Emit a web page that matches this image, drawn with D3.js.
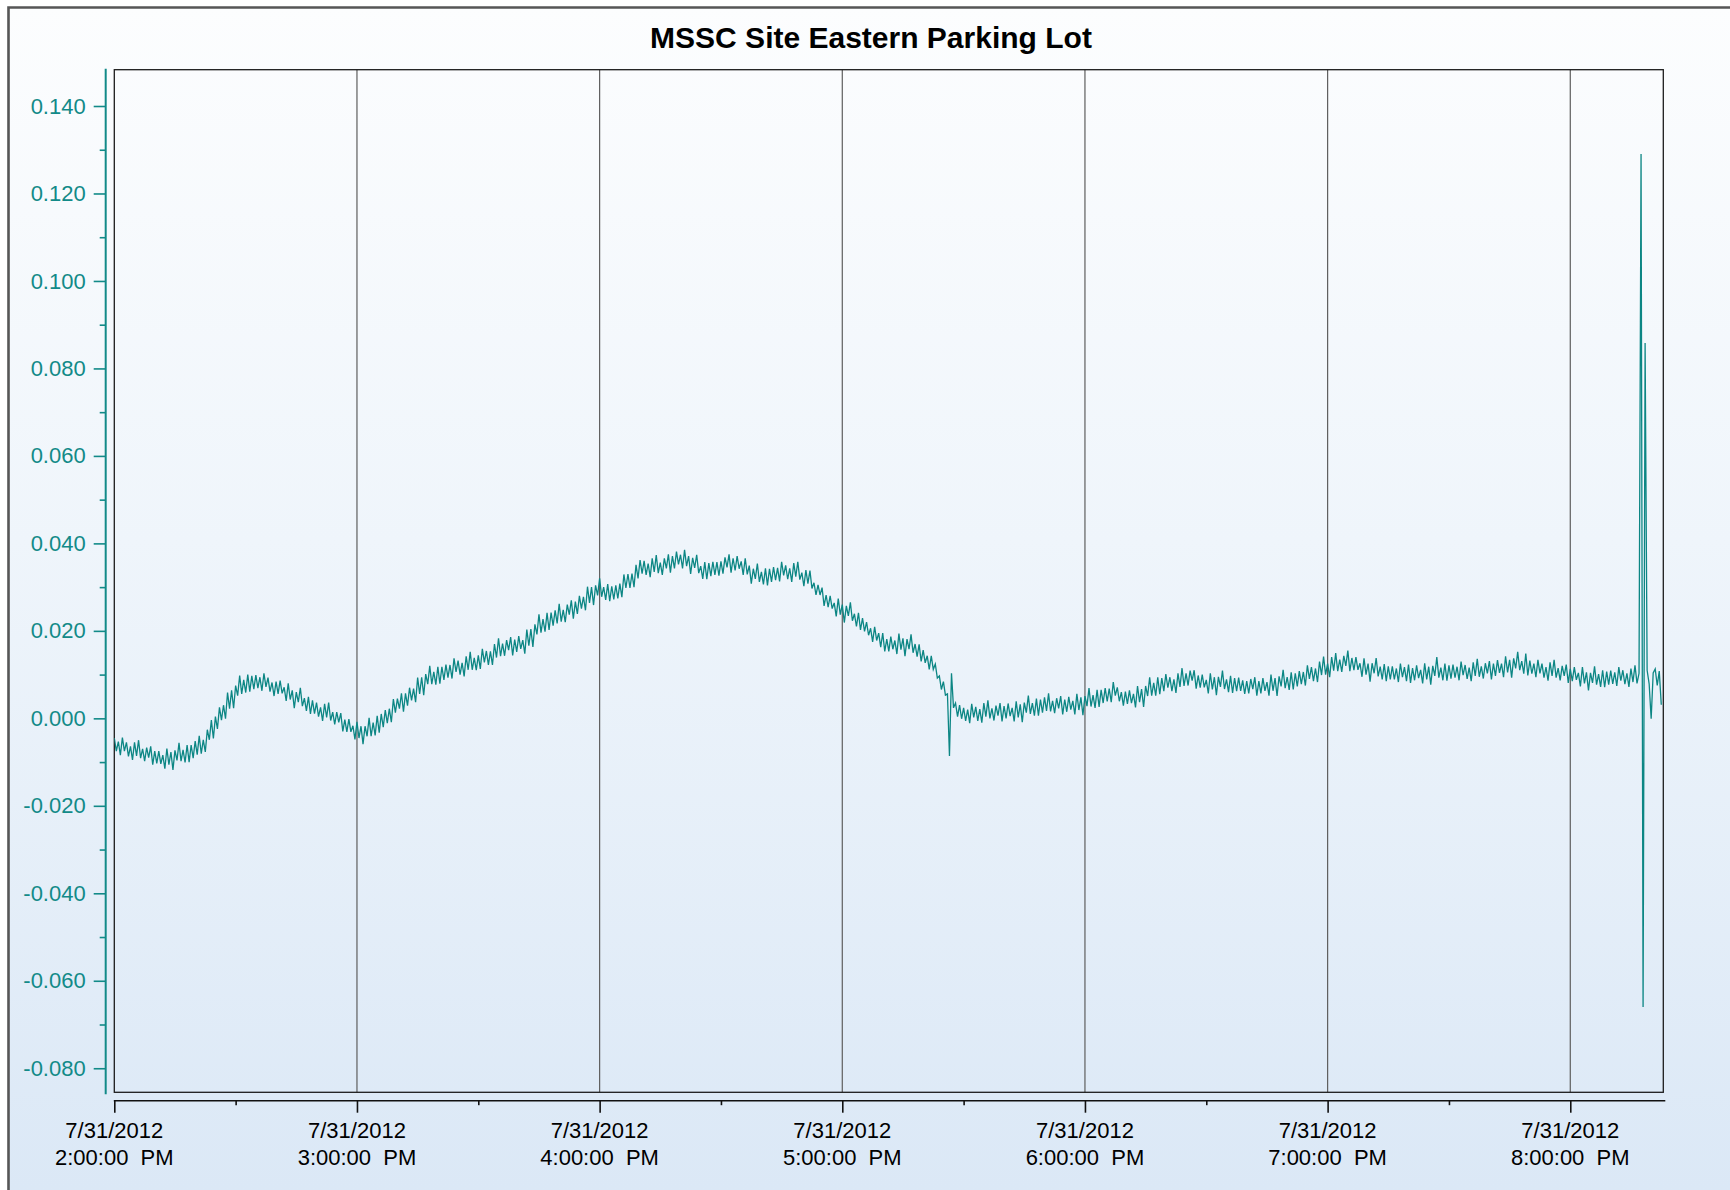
<!DOCTYPE html>
<html>
<head>
<meta charset="utf-8">
<script src="https://cdn.jsdelivr.net/npm/d3@7"></script>
<style>
  html, body { margin: 0; padding: 0; background: #ffffff; }
  svg { display: block; }
</style>
</head>
<body>
<svg id="chart" width="1730" height="1190"></svg>
<script>
// ---- data ----------------------------------------------------------------
const chartTitle = "MSSC Site Eastern Parking Lot";
const seriesStart = new Date(2012, 6, 31, 14, 0, 0);
const seriesEnd = new Date(2012, 6, 31, 20, 23, 0);
const sampleSeconds = 30;

// logged readings in units of 0.0001, one every 30 s starting at 2:00:00 PM
const readings = [
  -45,-75,-53,-84,-44,-75,-55,-87,-64,-95,-55,-86,-50,-91,-70,-98,-67,-90,-64,-106,
  -75,-103,-75,-104,-84,-115,-69,-106,-77,-118,-73,-96,-56,-98,-72,-101,-61,-100,-61,-91,
  -52,-83,-40,-81,-49,-77,-26,-49,-4,-46,4,-24,25,-4,30,-1,59,22,64,23,
  75,52,98,56,88,59,100,61,97,67,99,69,94,63,103,72,93,61,82,51,
  84,56,86,57,71,40,80,43,64,23,60,37,70,28,46,17,49,10,41,11,
  36,4,25,-6,33,2,36,-5,14,-14,14,-9,12,-30,-3,-31,-2,-31,-17,-48,
  -8,-45,-18,-59,-18,-41,1,-41,-10,-39,6,-33,10,-20,19,-11,22,-9,44,13,
  45,22,57,15,57,29,70,41,68,37,93,56,94,53,101,78,120,78,106,77,
  118,79,118,88,123,93,122,91,137,106,132,100,127,96,142,111,152,111,138,110,
  144,113,159,128,154,122,153,122,170,139,183,142,171,143,179,156,186,144,180,152,
  188,159,179,148,203,166,204,163,215,192,238,196,227,198,241,202,242,212,247,217,
  262,221,248,220,260,237,270,228,267,239,280,251,278,247,301,264,300,259,304,281,
  320,278,300,271,307,268,302,272,304,274,308,277,329,298,330,298,331,300,351,320,
  362,331,360,328,354,323,366,335,373,332,356,328,366,343,375,333,371,343,381,352,
  374,343,385,348,371,330,367,344,374,332,348,319,357,318,355,325,358,328,357,326,
  359,331,368,345,375,333,366,338,371,342,359,328,366,329,349,308,342,319,354,312,
  335,306,343,304,342,312,346,316,344,313,358,327,350,318,343,312,355,324,358,317,
  333,302,339,308,338,297,310,282,305,282,299,257,282,254,280,251,264,233,274,237,
  260,219,257,234,265,223,239,210,241,202,229,199,220,190,206,175,209,178,195,163,
  195,153,181,153,187,158,178,147,194,157,183,142,181,158,192,150,170,141,169,130,
  156,127,143,112,143,112,124,92,97,66,84,53,56,-86,103,24,35,4,30,-1,
  24,-6,20,-11,33,2,26,-6,21,-10,35,4,41,0,23,-5,29,6,35,-7,
  28,0,34,5,24,-7,39,2,32,-9,36,13,52,10,35,6,45,6,43,13,
  48,17,57,16,40,12,46,23,51,9,43,15,49,20,40,9,56,19,48,7,
  51,28,69,27,53,24,65,26,65,35,69,39,68,37,83,52,71,39,60,29,
  61,33,64,35,56,25,74,37,67,26,74,51,94,52,81,52,94,55,92,62,
  101,70,94,62,89,58,103,72,115,74,103,75,109,86,110,68,98,70,100,71,
  88,57,103,66,94,53,95,72,109,67,89,60,97,58,92,62,93,63,87,56,
  85,57,90,67,94,52,85,57,92,63,83,52,100,63,92,51,96,73,111,69,
  94,65,105,66,103,73,108,78,106,75,121,90,117,85,114,83,130,99,141,100,
  125,94,140,109,149,108,134,106,143,120,155,108,138,110,140,111,126,95,137,100,
  125,84,126,103,138,96,118,89,124,85,119,89,119,89,114,83,125,94,117,85,
  123,81,115,87,121,92,111,80,126,89,118,77,120,97,140,93,116,87,125,86,
  121,91,123,93,118,87,130,99,122,90,116,85,128,97,136,95,119,91,126,103,
  131,89,125,97,133,104,125,94,142,105,134,93,137,114,152,110,131,102,148,98,
  132,102,125,94,134,103,125,93,117,86,128,97,134,93,115,87,120,97,123,81,
  113,85,117,88,104,73,117,80,105,64,104,81,119,77,101,72,110,71,107,77,
  109,79,105,74,117,86,110,78,103,72,114,83,121,80,103,1290,-660,858,110,79,-1,104,113,75,108,31
];

const hourTicks = [14, 15, 16, 17, 18, 19, 20];
const halfHourTicks = [14.5, 15.5, 16.5, 17.5, 18.5, 19.5];
const yMajorTicks = [0.14, 0.12, 0.10, 0.08, 0.06, 0.04, 0.02, 0.00, -0.02, -0.04, -0.06, -0.08];
const yMinorTicks = [0.13, 0.11, 0.09, 0.07, 0.05, 0.03, 0.01, -0.01, -0.03, -0.05, -0.07];

// ---- layout --------------------------------------------------------------
const W = 1730, H = 1190;
const plot = { left: 114.3, right: 1663.3, top: 69.7, bottom: 1092.3 };
const teal = "#128a88";
const font = "Arial, 'Liberation Sans', Helvetica, sans-serif";

const atHour = h => new Date(2012, 6, 31, Math.floor(h), Math.round((h % 1) * 60), 0);

const points = readings.map((v, i) => ({
  t: new Date(seriesStart.getTime() + i * sampleSeconds * 1000),
  v: v / 10000
}));

const x = d3.scaleTime().domain([seriesStart, seriesEnd]).range([plot.left, plot.right]);
const y = d3.scaleLinear().domain([-0.0855, 0.1483]).range([plot.bottom, plot.top]);

const svg = d3.select("#chart");

// background panel with soft vertical gradient
const defs = svg.append("defs");
const grad = defs.append("linearGradient")
  .attr("id", "bg").attr("gradientUnits", "userSpaceOnUse")
  .attr("x1", 0).attr("y1", 7).attr("x2", 0).attr("y2", H);
grad.append("stop").attr("offset", 0).attr("stop-color", "#fcfdfe");
grad.append("stop").attr("offset", 0.45).attr("stop-color", "#eff5fb");
grad.append("stop").attr("offset", 1).attr("stop-color", "#dbe8f6");

defs.append("clipPath").attr("id", "plotClip")
  .append("rect")
  .attr("x", plot.left).attr("y", plot.top)
  .attr("width", plot.right - plot.left).attr("height", plot.bottom - plot.top);

svg.append("rect")
  .attr("x", 8).attr("y", 7).attr("width", W - 8).attr("height", H - 7)
  .attr("fill", "url(#bg)");

// outer frame (top and left edges)
svg.append("path")
  .attr("d", `M8.5,${H} L8.5,7.5 L${W},7.5`)
  .attr("fill", "none").attr("stroke", "#565656").attr("stroke-width", 2.6);

// title
svg.append("text")
  .attr("x", 871).attr("y", 47.5)
  .attr("text-anchor", "middle")
  .style("font-family", font).style("font-size", "30px").style("font-weight", "bold")
  .attr("fill", "#000")
  .text(chartTitle);

// vertical hour grid
svg.append("g")
  .selectAll("line")
  .data(hourTicks.slice(1))
  .join("line")
  .attr("x1", d => x(atHour(d))).attr("x2", d => x(atHour(d)))
  .attr("y1", plot.top).attr("y2", plot.bottom)
  .attr("stroke", "#5e5e5e").attr("stroke-width", 1.2);

// plot frame
svg.append("rect")
  .attr("x", plot.left).attr("y", plot.top)
  .attr("width", plot.right - plot.left).attr("height", plot.bottom - plot.top)
  .attr("fill", "none").attr("stroke", "#1c1c1c").attr("stroke-width", 1.3);

// series
const line = d3.line().x(d => x(d.t)).y(d => y(d.v));
svg.append("path")
  .datum(points)
  .attr("clip-path", "url(#plotClip)")
  .attr("d", line)
  .attr("fill", "none")
  .attr("stroke", "#0c8684")
  .attr("stroke-width", 1.3)
  .attr("stroke-linejoin", "miter");

// y axis
const yAxisX = 105.7;
const yAxis = svg.append("g")
  .attr("transform", `translate(${yAxisX},0)`)
  .call(d3.axisLeft(y).tickValues(yMajorTicks).tickSize(12).tickSizeOuter(0).tickPadding(8)
    .tickFormat(d => (Math.abs(d) < 1e-9 ? 0 : d).toFixed(3)));
yAxis.select(".domain").remove();
yAxis.selectAll(".tick line").attr("stroke", teal).attr("stroke-width", 1.6);
yAxis.selectAll(".tick text")
  .attr("fill", teal)
  .style("font-family", font).style("font-size", "22px");

const yMinor = svg.append("g")
  .attr("transform", `translate(${yAxisX},0)`)
  .call(d3.axisLeft(y).tickValues(yMinorTicks).tickSize(6).tickSizeOuter(0).tickFormat(""));
yMinor.select(".domain").remove();
yMinor.selectAll(".tick line").attr("stroke", teal).attr("stroke-width", 1.6);

svg.append("line")
  .attr("x1", yAxisX).attr("x2", yAxisX)
  .attr("y1", plot.top - 1).attr("y2", plot.bottom + 2)
  .attr("stroke", teal).attr("stroke-width", 2);

// x axis
const xAxisY = 1100.7;
const xAxis = svg.append("g")
  .attr("transform", `translate(0,${xAxisY})`)
  .call(d3.axisBottom(x).tickValues(hourTicks.map(atHour)).tickSize(12).tickSizeOuter(0).tickFormat(""));
xAxis.select(".domain").remove();
xAxis.selectAll(".tick line").attr("stroke", "#111").attr("stroke-width", 1.6);

const xMinor = svg.append("g")
  .attr("transform", `translate(0,${xAxisY})`)
  .call(d3.axisBottom(x).tickValues(halfHourTicks.map(atHour)).tickSize(4.5).tickSizeOuter(0).tickFormat(""));
xMinor.select(".domain").remove();
xMinor.selectAll(".tick line").attr("stroke", "#111").attr("stroke-width", 1.6);

svg.append("line")
  .attr("x1", plot.left - 0.5).attr("x2", plot.right + 2)
  .attr("y1", xAxisY).attr("y2", xAxisY)
  .attr("stroke", "#111").attr("stroke-width", 1.6);

const fmtDate = d3.timeFormat("%-m/%-d/%Y");
const fmtTime = d => d3.timeFormat("%-I:%M:%S")(d) + "  " + d3.timeFormat("%p")(d);

const xLabels = svg.append("g")
  .selectAll("text")
  .data(hourTicks.map(atHour))
  .join("text")
  .attr("text-anchor", "middle")
  .style("font-family", font).style("font-size", "22px")
  .style("white-space", "pre")
  .attr("fill", "#000");
xLabels.append("tspan")
  .attr("x", d => x(d)).attr("y", 1138)
  .text(fmtDate);
xLabels.append("tspan")
  .attr("x", d => x(d)).attr("y", 1165)
  .text(fmtTime);
</script>
</body>
</html>
